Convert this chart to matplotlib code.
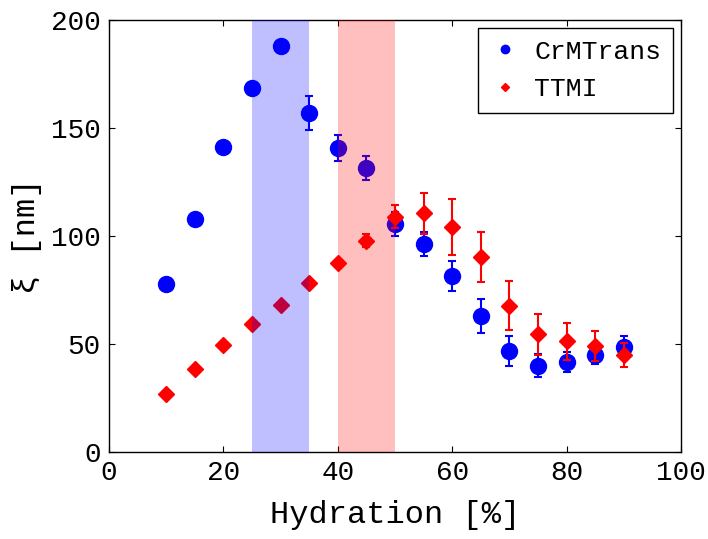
import numpy as np
import matplotlib
matplotlib.use("Agg")
import matplotlib.pyplot as plt
from matplotlib.lines import Line2D

plt.rcParams['font.family'] = ['Liberation Mono', 'DejaVu Sans Mono']

# hydration levels (%)
hyd = [10, 15, 20, 25, 30, 35, 40, 45, 50, 55, 60, 65, 70, 75, 80, 85, 90]

# CrMTrans correlation length (nm) and error
crm = [78, 108, 141, 168.5, 188, 157, 140.6, 131.3, 105.4, 96.3, 81.5, 63, 46.8, 40, 41.7, 44.9, 48.5]
crm_err = [0, 0, 0, 0, 0, 8, 6, 5.5, 5.5, 5.5, 7, 7.7, 7, 5.5, 4.5, 4, 5]

# TTMI correlation length (nm) and error
ttmi = [26.9, 38.4, 49.5, 59.3, 68, 78.2, 87.5, 97.8, 109, 110.5, 104.2, 90.3, 67.7, 54.5, 51.2, 49.1, 44.9]
ttmi_err = [0, 0, 0, 0, 0, 0, 0, 3, 5.5, 9.5, 13, 11.7, 11.4, 9.6, 8.6, 6.8, 5.7]

# shaded hydration bands
blue_band = (25, 35)
red_band = (40, 50)

fig = plt.figure(figsize=(7.08, 5.39), dpi=100)
ax = fig.add_axes([0.154, 0.1614, 0.808, 0.8016])

ax.errorbar(hyd, crm, yerr=crm_err, fmt='o', color='blue', ms=11.5,
            elinewidth=1.5, capsize=3, capthick=1.5, zorder=2)
ax.errorbar(hyd, ttmi, yerr=ttmi_err, fmt='D', color='red', ms=8.5,
            elinewidth=1.5, capsize=3, capthick=1.5, zorder=3)

ax.axvspan(*blue_band, color='blue', alpha=0.25, lw=0, zorder=4)
ax.axvspan(*red_band, color='red', alpha=0.25, lw=0, zorder=4)

ax.set_xlim(0, 100)
ax.set_ylim(0, 200)
ax.set_xticks([0, 20, 40, 60, 80, 100])
ax.set_yticks([0, 50, 100, 150, 200])
ax.tick_params(direction='in', top=True, right=True, length=4, labelsize=20, pad=6)
for s in ax.spines.values():
    s.set_linewidth(1.0)

ax.set_xlabel('Hydration [%]', fontsize=23, labelpad=10)
ax.set_ylabel('ξ [nm]', fontsize=23, labelpad=6)

handles = [Line2D([], [], ls='none', marker='o', color='blue', ms=6),
           Line2D([], [], ls='none', marker='D', color='red', ms=4.5)]
leg = ax.legend(handles, ['CrMTrans', 'TTMI'], loc='upper right', fontsize=19,
                fancybox=False, edgecolor='black', framealpha=1,
                handletextpad=0.5, borderpad=0.45, handlelength=1.2,
                borderaxespad=0.3)
leg.get_frame().set_linewidth(1.0)
leg.set_zorder(10)

fig.savefig('out.png', dpi=100)
